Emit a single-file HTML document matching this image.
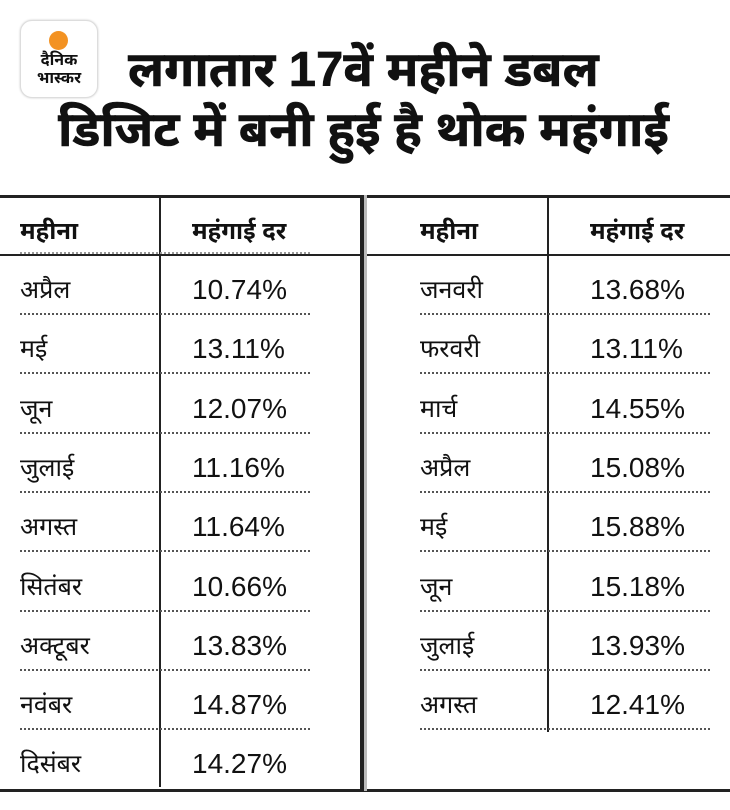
<!DOCTYPE html>
<html><head><meta charset="utf-8"><style>
body{margin:0;width:730px;height:810px;background:#fff;position:relative;overflow:hidden;font-family:"Liberation Sans","Noto Sans Devanagari","Lohit Devanagari",sans-serif;color:#111}
.a{position:absolute}
.logo{left:20px;top:20px;width:76px;height:76px;border-radius:12px;border:1px solid #ddd;background:#fff;box-shadow:0 0 2px #ccc}
.dot{left:28px;top:10px;width:19px;height:19px;border-radius:50%;background:#f39222}
.lt{font-weight:bold;font-size:16px;line-height:16px;text-align:center;width:76px;left:0}
.title{font-weight:bold;font-size:49px;line-height:60px;-webkit-text-stroke:0.6px #111;white-space:nowrap}
.t{font-size:25px;line-height:30px}
.n{font-size:28px;line-height:30px}
.h{font-weight:bold;font-size:24px}
.dl{height:0;border-top:2px dotted #555}
</style></head><body>
<div class="a logo"><div class="a dot"></div><div class="a lt" style="top:32px">दैनिक</div><div class="a lt" style="top:50px">भास्कर</div></div>
<div class="a title" style="left:128px;top:40px">लगातार 17वें महीने डबल</div>
<div class="a title" style="left:58px;top:100px">डिजिट में बनी हुई है थोक महंगाई</div>

<div class="a" style="left:0;top:195px;width:730px;height:3px;background:#222"></div>
<div class="a" style="left:0;top:789px;width:730px;height:3px;background:#222"></div>
<div class="a" style="left:360px;top:195px;width:4px;height:596px;background:#222"></div>
<div class="a" style="left:364px;top:195px;width:3px;height:596px;background:#bbb"></div>
<div class="a" style="left:0;top:254px;width:360px;height:2px;background:#222"></div>
<div class="a" style="left:367px;top:254px;width:363px;height:2px;background:#222"></div>
<div class="a" style="left:159px;top:197px;width:2px;height:590px;background:#222"></div>
<div class="a" style="left:547px;top:197px;width:2px;height:535px;background:#222"></div>

<div class="a t h" style="left:20px;top:217px">महीना</div>
<div class="a t h" style="left:192px;top:217px">महंगाई दर</div>
<div class="a t h" style="left:420px;top:217px">महीना</div>
<div class="a t h" style="left:590px;top:217px">महंगाई दर</div>

<div id="rows"></div>
<script>
var L=[["अप्रैल","10.74%"],["मई","13.11%"],["जून","12.07%"],["जुलाई","11.16%"],["अगस्त","11.64%"],["सितंबर","10.66%"],["अक्टूबर","13.83%"],["नवंबर","14.87%"],["दिसंबर","14.27%"]];
var R=[["जनवरी","13.68%"],["फरवरी","13.11%"],["मार्च","14.55%"],["अप्रैल","15.08%"],["मई","15.88%"],["जून","15.18%"],["जुलाई","13.93%"],["अगस्त","12.41%"]];
var h="";
function row(a,x1,x2,dx,dw){a.forEach(function(r,i){var y=275+i*59.3;
h+='<div class="a t" style="left:'+x1+'px;top:'+y+'px">'+r[0]+'</div><div class="a n" style="left:'+x2+'px;top:'+y+'px">'+r[1]+'</div>';
if(i<8||a.length<9)h+='<div class="a dl" style="left:'+dx+'px;top:'+(y+38)+'px;width:'+dw+'px"></div>';});}
row(L,20,192,20,290);row(R,420,590,420,290);
document.getElementById("rows").innerHTML=h;
</script>
<div class="a dl" style="left:20px;top:252px;width:290px;border-color:#999"></div>
</body></html>
